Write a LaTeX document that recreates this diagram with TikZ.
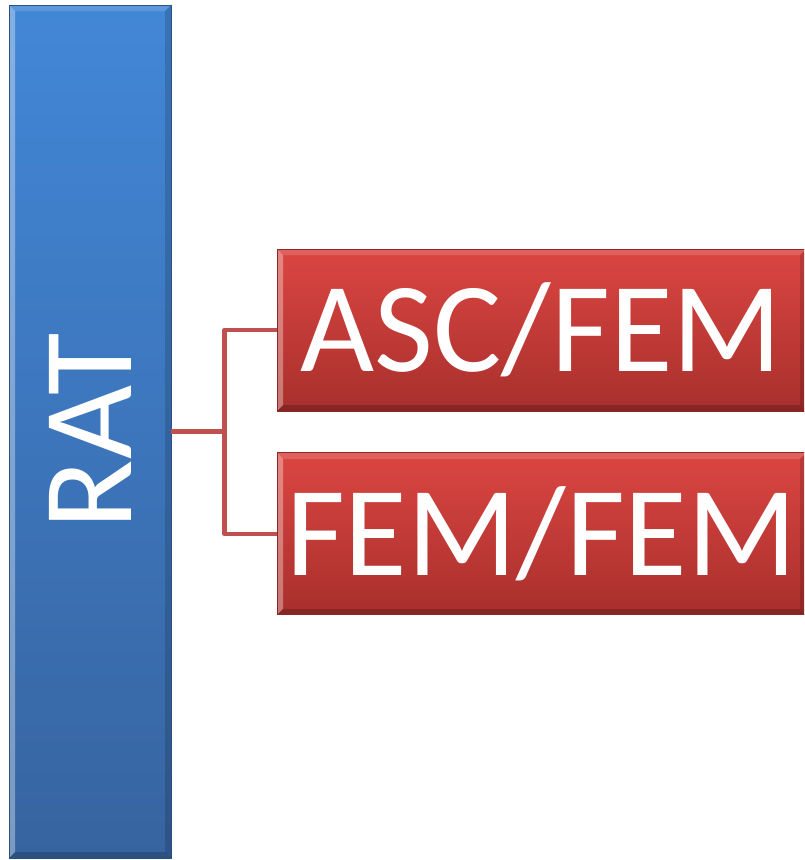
\documentclass[tikz,border=0pt]{standalone}
\usepackage{fontspec}
\setmainfont{Carlito}
\usetikzlibrary{positioning}
\definecolor{barblue}{RGB}{66,135,215}
\definecolor{bardark}{RGB}{55,100,160}
\definecolor{boxred}{RGB}{219,70,66}
\definecolor{boxdark}{RGB}{168,47,44}
\definecolor{linkred}{RGB}{192,80,77}

\begin{document}
\begin{tikzpicture}[
                    x=1pt,y=-1pt,
                    bevel/.style={
                        path picture={
                            \coordinate (nw) at (path picture bounding box.north west);
                            \coordinate (ne) at (path picture bounding box.north east);
                            \coordinate (sw) at (path picture bounding box.south west);
                            \coordinate (se) at (path picture bounding box.south east);
                            \fill[white,opacity=0.35] (nw) -- (sw) -- ([shift={(6pt,6pt)}]sw) -- ([shift={(6pt,-6pt)}]nw) -- cycle;
                            \fill[white,opacity=0.15] (nw) -- (ne) -- ([shift={(-6pt,-6pt)}]ne) -- ([shift={(6pt,-6pt)}]nw) -- cycle;
                            \fill[black,opacity=0.15] (ne) -- (se) -- ([shift={(-6pt,6pt)}]se) -- ([shift={(-6pt,-6pt)}]ne) -- cycle;
                            \fill[black,opacity=0.2] (sw) -- (se) -- ([shift={(-6pt,6pt)}]se) -- ([shift={(6pt,6pt)}]sw) -- cycle;
                        }
                    },
                    bar/.style={
                        rectangle,
                        top color=barblue,
                        bottom color=bardark,
                        draw=bardark!80!black,
                        line width=0.8pt,
                        minimum width=162pt,
                        minimum height=853pt,
                        inner sep=0pt,
                        bevel
                    },
                    pairbox/.style={
                        rectangle,
                        top color=boxred,
                        bottom color=boxdark,
                        draw=boxdark!85!black,
                        line width=0.8pt,
                        minimum width=529pt,
                        minimum height=162pt,
                        inner sep=0pt,
                        text=white,
                        font=\fontsize{128}{128}\selectfont,
                        bevel
                    },
                    link/.style={
                        draw=linkred,
                        line width=4.5pt,
                        line join=round
                    }
                ]
                \clip (0,0) rectangle (804,860);
                \fill[white] (0,0) rectangle (804,860);

                \node (rat) [bar] at (90,431.5) {};
                \node [rotate=90, text=white,
                       font=\fontsize{128}{128}\selectfont] at (rat.center) {RAT};

                \node (ascfem) [pairbox] at (541.5,330) {ASC/FEM};
                \node (femfem) [pairbox, below=41pt of ascfem] {FEM/FEM};

                \coordinate (fork) at ([xshift=53pt]rat.east);

                \path[link]
                (rat.east) -- (fork)
                (ascfem.west) -| (fork) |- (femfem.west)
                ;
            \end{tikzpicture}
\end{document}
